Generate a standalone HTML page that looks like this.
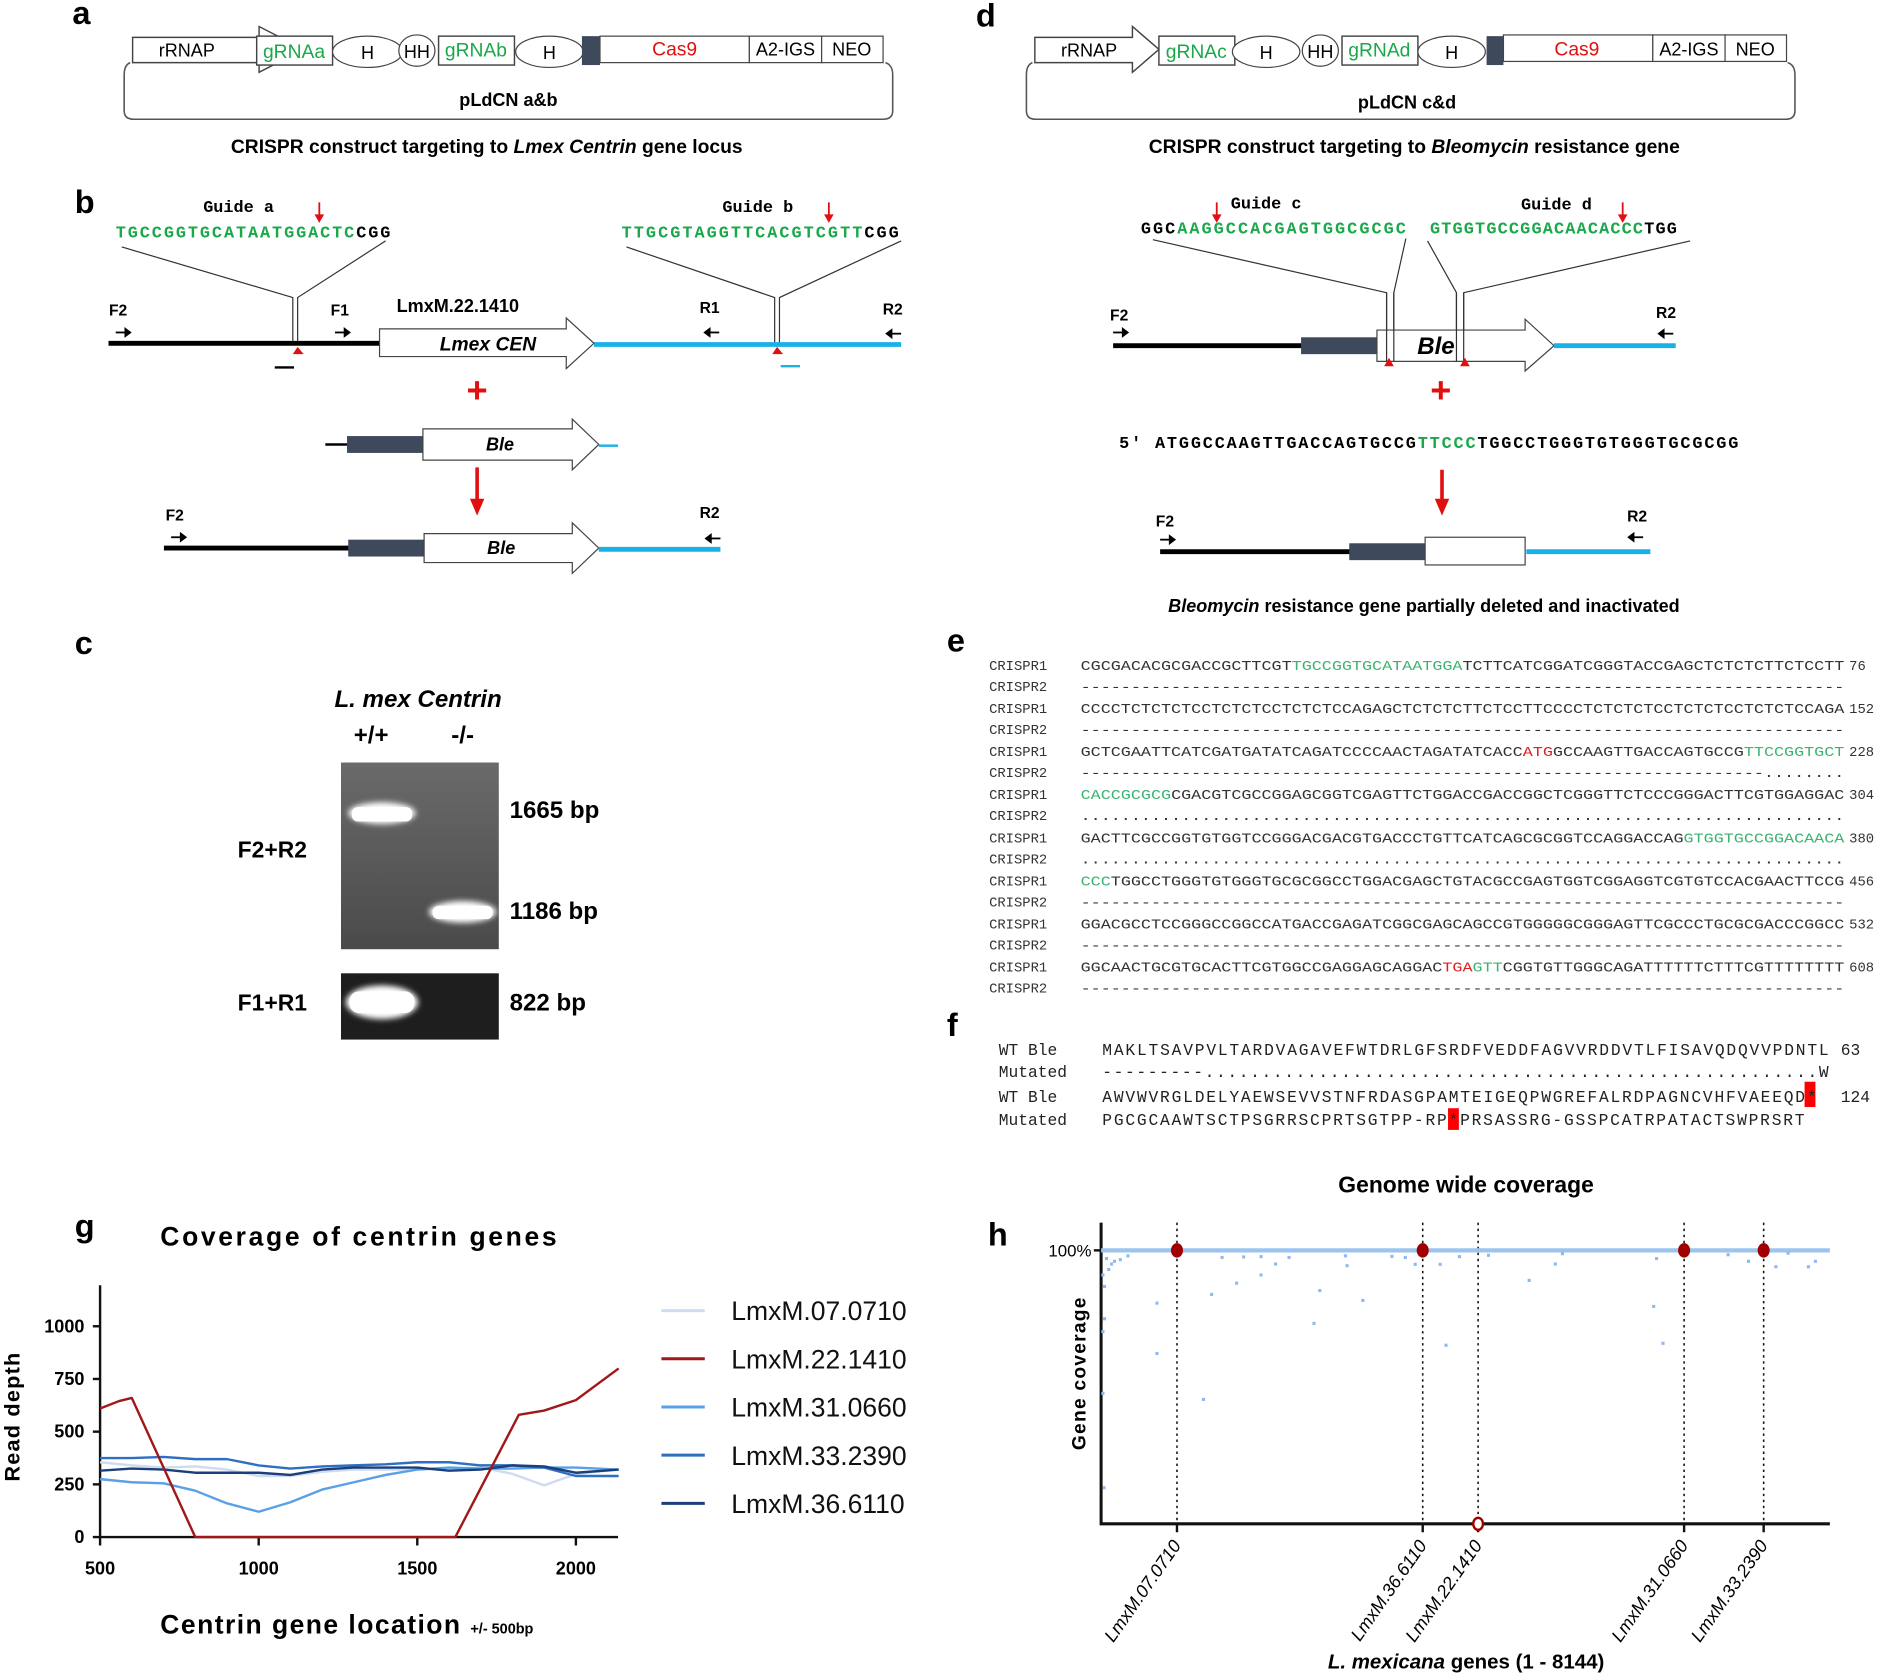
<!DOCTYPE html>
<html><head><meta charset="utf-8"><style>
html,body{margin:0;padding:0;background:#fff}
svg{display:block}
.s{font-family:"Liberation Sans",sans-serif}
.m{font-family:"Liberation Mono",monospace}
.b{font-weight:bold}
.g{fill:#19a84a}
.lab{font-family:"Liberation Sans",sans-serif;font-weight:bold;font-size:27px}
</style></head><body>
<svg id="root" xmlns="http://www.w3.org/2000/svg" width="1889" height="1678" viewBox="0 0 1568 1393">
<defs>
<linearGradient id="gelg" x1="0" y1="0" x2="0" y2="1"><stop offset="0" stop-color="#6a6a6a"/><stop offset="1" stop-color="#4a4a4a"/></linearGradient>
<filter id="blur" x="-30%" y="-100%" width="160%" height="300%"><feGaussianBlur stdDeviation="2.5"/></filter>
</defs>

<!-- Panel a -->
<g>
<text class="lab" x="60" y="20">a</text>
<g id="constructA">
<path d="M108,52 Q103,54 103,62 L103,92 Q103,99 111,99 L733,99 Q741,99 741,92 L741,62 Q741,54 735,52" fill="none" stroke="#555" stroke-width="1.3"/>
<polygon points="110,31 215,31 215,22 252,41 215,60 215,52 110,52" fill="#fff" stroke="#444" stroke-width="1.2"/>
<text class="s" x="155" y="47" font-size="15" text-anchor="middle">rRNAP</text>
<rect x="213" y="30" width="63" height="24" fill="#fff" stroke="#444" stroke-width="1.2"/>
<text class="s g" x="244" y="48" font-size="16" text-anchor="middle">gRNAa</text>
<ellipse cx="305" cy="43" rx="29" ry="13" fill="#fff" stroke="#444"/>
<text class="s" x="305" y="49" font-size="15" text-anchor="middle">H</text>
<ellipse cx="346" cy="42" rx="15" ry="13" fill="#fff" stroke="#444"/>
<text class="s" x="346" y="48" font-size="15" text-anchor="middle">HH</text>
<rect x="364" y="30" width="63" height="24" fill="#fff" stroke="#444" stroke-width="1.2"/>
<text class="s g" x="395" y="47" font-size="16" text-anchor="middle">gRNAb</text>
<ellipse cx="456" cy="43" rx="28" ry="13" fill="#fff" stroke="#444"/>
<text class="s" x="456" y="49" font-size="15" text-anchor="middle">H</text>
<rect x="483" y="30" width="15" height="24" fill="#3e4a5c"/>
<rect x="498" y="30" width="124" height="22" fill="#fff" stroke="#444"/>
<text class="s" x="560" y="46" font-size="16" text-anchor="middle" fill="#e01010">Cas9</text>
<rect x="622" y="30" width="60" height="22" fill="#fff" stroke="#444"/>
<text class="s" x="652" y="46" font-size="15" text-anchor="middle">A2-IGS</text>
<rect x="682" y="30" width="51" height="22" fill="#fff" stroke="#444"/>
<text class="s" x="707" y="46" font-size="15" text-anchor="middle">NEO</text>
</g>
<text class="s b" x="422" y="88" font-size="15" text-anchor="middle">pLdCN a&amp;b</text>
<text class="s" x="404" y="127" font-size="16" text-anchor="middle" font-weight="bold">CRISPR construct targeting to <tspan font-style="italic">Lmex Centrin</tspan> gene locus</text>
</g>

<!-- Panel b -->
<g>
<text class="lab" x="62" y="177">b</text>
<text class="m b" x="198" y="176" font-size="14" text-anchor="middle">Guide a</text>
<text class="m b" x="96" y="197" font-size="14" textLength="228"><tspan class="g">TGCCGGTGCATAATGGACTC</tspan>CGG</text>
<path d="M265,168 V181" stroke="#e01010" stroke-width="1.5"/><path d="M261,178 L265,185 L269,178Z" fill="#e01010"/>
<text class="m b" x="629" y="176" font-size="14" text-anchor="middle">Guide b</text>
<text class="m b" x="516" y="197" font-size="14" textLength="230"><tspan class="g">TTGCGTAGGTTCACGTCGTT</tspan>CGG</text>
<path d="M688,168 V181" stroke="#e01010" stroke-width="1.5"/><path d="M684,178 L688,185 L692,178Z" fill="#e01010"/>
<path d="M101,205 L243,247 V285 M320,200 L247,247 V285" fill="none" stroke="#333" stroke-width="1"/>
<path d="M520,205 L643,247 V287 M748,200 L647,247 V287" fill="none" stroke="#333" stroke-width="1"/>
<line x1="90" y1="285" x2="316" y2="285" stroke="#000" stroke-width="4"/>
<line x1="493" y1="286" x2="748" y2="286" stroke="#1ab0e8" stroke-width="4"/>
<polygon points="315,273 470,273 470,264 493,285 470,306 470,296 315,296" fill="#fff" stroke="#444"/>
<text class="s b" x="405" y="291" font-size="16" font-style="italic" text-anchor="middle">Lmex  CEN</text>
<text class="s b" x="380" y="259" font-size="15" text-anchor="middle">LmxM.22.1410</text>
<path d="M245,292 L241,298 H250Z" fill="#e01010" transform="translate(2,-4)"/>
<path d="M643,292 L639,298 H648Z" fill="#e01010" transform="translate(2,-4)"/>
<line x1="228" y1="305" x2="244" y2="305" stroke="#000" stroke-width="2"/>
<line x1="648" y1="304" x2="664" y2="304" stroke="#1ab0e8" stroke-width="2"/>
<text class="s b" x="98" y="262" font-size="13" text-anchor="middle">F2</text>
<text class="s b" x="282" y="262" font-size="13" text-anchor="middle">F1</text>
<text class="s b" x="589" y="260" font-size="13" text-anchor="middle">R1</text>
<text class="s b" x="741" y="261" font-size="13" text-anchor="middle">R2</text>
<g stroke="#000" stroke-width="1.5" fill="#000">
<path d="M96,276 H106" /><path d="M104,273 L108,276 L104,279Z"/>
<path d="M278,276 H288"/><path d="M286,273 L290,276 L286,279Z"/>
<path d="M587,276 H597"/><path d="M589,273 L585,276 L589,279Z"/>
<path d="M738,277 H748"/><path d="M740,274 L736,277 L740,280Z"/>
<path d="M142,446 H152"/><path d="M150,443 L154,446 L150,449Z"/>
<path d="M588,447 H598"/><path d="M590,444 L586,447 L590,450Z"/>
</g>
<text class="s b" x="396" y="334" font-size="30" fill="#e01010" text-anchor="middle">+</text>
<line x1="270" y1="369" x2="290" y2="369" stroke="#000" stroke-width="2"/>
<rect x="288" y="362" width="63" height="14" fill="#3e4a5c"/>
<polygon points="351,356 475,356 475,348 497,369 475,390 475,382 351,382" fill="#fff" stroke="#444"/>
<text class="s b" x="415" y="374" font-size="15" font-style="italic" text-anchor="middle">Ble</text>
<line x1="497" y1="370" x2="513" y2="370" stroke="#1ab0e8" stroke-width="2"/>
<line x1="396" y1="388" x2="396" y2="418" stroke="#e01010" stroke-width="3"/>
<path d="M390,414 L396,428 L402,414Z" fill="#e01010"/>
<text class="s b" x="145" y="432" font-size="13" text-anchor="middle">F2</text>
<text class="s b" x="589" y="430" font-size="13" text-anchor="middle">R2</text>
<line x1="136" y1="455" x2="290" y2="455" stroke="#000" stroke-width="4"/>
<rect x="289" y="448" width="63" height="14" fill="#3e4a5c"/>
<polygon points="352,443 475,443 475,434 497,455 475,476 475,467 352,467" fill="#fff" stroke="#444"/>
<text class="s b" x="416" y="460" font-size="15" font-style="italic" text-anchor="middle">Ble</text>
<line x1="497" y1="456" x2="598" y2="456" stroke="#1ab0e8" stroke-width="4"/>
</g>

<!-- Panel c -->
<g>
<text class="lab" x="62" y="543">c</text>
<text class="s b" x="347" y="587" font-size="20" font-style="italic" text-anchor="middle">L. mex Centrin</text>
<text class="s b" x="308" y="617" font-size="20" text-anchor="middle">+/+</text>
<text class="s b" x="384" y="617" font-size="20" text-anchor="middle">-/-</text>
<rect x="283" y="633" width="131" height="155" fill="url(#gelg)"/>
<ellipse cx="317" cy="675" rx="28" ry="9" fill="#fff" filter="url(#blur)"/>
<rect x="292" y="670" width="50" height="12" rx="5" fill="#fff"/>
<ellipse cx="384" cy="757" rx="28" ry="9" fill="#fff" filter="url(#blur)"/>
<rect x="359" y="752" width="50" height="11" rx="5" fill="#fff"/>
<rect x="283" y="808" width="131" height="55" fill="#1e1e1e"/>
<ellipse cx="317" cy="832" rx="30" ry="14" fill="#fff" filter="url(#blur)"/>
<rect x="290" y="823" width="54" height="18" rx="8" fill="#fff"/>
<text class="s b" x="226" y="712" font-size="19" text-anchor="middle">F2+R2</text>
<text class="s b" x="226" y="839" font-size="19" text-anchor="middle">F1+R1</text>
<text class="s b" x="423" y="679" font-size="20">1665 bp</text>
<text class="s b" x="423" y="763" font-size="20">1186 bp</text>
<text class="s b" x="423" y="839" font-size="20">822 bp</text>
</g>

<!-- Panel d -->
<g>
<text class="lab" x="810" y="22">d</text>
<g transform="translate(749,0)">
<path d="M108,52 Q103,54 103,62 L103,92 Q103,99 111,99 L733,99 Q741,99 741,92 L741,62 Q741,54 735,52" fill="none" stroke="#555" stroke-width="1.3"/>
<polygon points="110,31 191,31 191,22 213,41 191,60 191,52 110,52" fill="#fff" stroke="#444" stroke-width="1.2"/>
<text class="s" x="155" y="47" font-size="15" text-anchor="middle">rRNAP</text>
<rect x="213" y="30" width="63" height="24" fill="#fff" stroke="#444" stroke-width="1.2"/>
<text class="s g" x="244" y="48" font-size="16" text-anchor="middle">gRNAc</text>
<ellipse cx="302" cy="43" rx="28" ry="13" fill="#fff" stroke="#444"/>
<text class="s" x="302" y="49" font-size="15" text-anchor="middle">H</text>
<ellipse cx="347" cy="42" rx="15" ry="13" fill="#fff" stroke="#444"/>
<text class="s" x="347" y="48" font-size="15" text-anchor="middle">HH</text>
<rect x="365" y="30" width="63" height="24" fill="#fff" stroke="#444" stroke-width="1.2"/>
<text class="s g" x="396" y="47" font-size="16" text-anchor="middle">gRNAd</text>
<ellipse cx="456" cy="43" rx="28" ry="13" fill="#fff" stroke="#444"/>
<text class="s" x="456" y="49" font-size="15" text-anchor="middle">H</text>
<rect x="485" y="30" width="14" height="24" fill="#3e4a5c"/>
<rect x="499" y="29" width="124" height="22" fill="#fff" stroke="#444"/>
<text class="s" x="560" y="46" font-size="16" text-anchor="middle" fill="#e01010">Cas9</text>
<rect x="623" y="29" width="60" height="22" fill="#fff" stroke="#444"/>
<text class="s" x="653" y="46" font-size="15" text-anchor="middle">A2-IGS</text>
<rect x="683" y="29" width="51" height="22" fill="#fff" stroke="#444"/>
<text class="s" x="708" y="46" font-size="15" text-anchor="middle">NEO</text>
</g>
<text class="s b" x="1168" y="90" font-size="15" text-anchor="middle">pLdCN c&amp;d</text>
<text class="s b" x="1174" y="127" font-size="16" text-anchor="middle">CRISPR construct targeting to <tspan font-style="italic">Bleomycin</tspan>  resistance gene</text>
<text class="m b" x="1051" y="173" font-size="14" text-anchor="middle">Guide c</text>
<text class="m b" x="947" y="194" font-size="14" textLength="220">GGC<tspan class="g">AAGGCCACGAGTGGCGCGC</tspan></text>
<text class="m b" x="1292" y="174" font-size="14" text-anchor="middle">Guide d</text>
<text class="m b" x="1187" y="194" font-size="14" textLength="205"><tspan class="g">GTGGTGCCGGACAACACCC</tspan>TGG</text>
<path d="M1010,168 V181" stroke="#e01010" stroke-width="1.5"/><path d="M1006,178 L1010,185 L1014,178Z" fill="#e01010"/>
<path d="M1347,168 V181" stroke="#e01010" stroke-width="1.5"/><path d="M1343,178 L1347,185 L1351,178Z" fill="#e01010"/>
<path d="M957,199 L1151,243 V300 M1167,198 L1157,243 V300 M1185,200 L1209,243 V300 M1403,200 L1215,243 V300" fill="none" stroke="#333" stroke-width="1"/>
<line x1="924" y1="287" x2="1081" y2="287" stroke="#000" stroke-width="4"/>
<rect x="1080" y="280" width="63" height="14" fill="#3e4a5c"/>
<polygon points="1143,274 1266,274 1266,265 1290,287 1266,308 1266,300 1143,300" fill="#fff" stroke="#444"/>
<path d="M1151,243 V300 M1157,243 V300 M1209,243 V300 M1215,243 V300" stroke="#333" stroke-width="1"/>
<text class="s b" x="1192" y="294" font-size="20" font-style="italic" text-anchor="middle">Ble</text>
<line x1="1290" y1="287" x2="1391" y2="287" stroke="#1ab0e8" stroke-width="4"/>
<path d="M1153,297 L1149,304 H1157Z" fill="#e01010"/>
<path d="M1216,297 L1212,304 H1220Z" fill="#e01010"/>
<text class="s b" x="929" y="266" font-size="13" text-anchor="middle">F2</text>
<text class="s b" x="1383" y="264" font-size="13" text-anchor="middle">R2</text>
<text class="s b" x="967" y="437" font-size="13" text-anchor="middle">F2</text>
<text class="s b" x="1359" y="433" font-size="13" text-anchor="middle">R2</text>
<g stroke="#000" stroke-width="1.5" fill="#000">
<path d="M924,276 H934"/><path d="M932,273 L936,276 L932,279Z"/>
<path d="M1379,277 H1389"/><path d="M1381,274 L1377,277 L1381,280Z"/>
<path d="M963,448 H973"/><path d="M971,445 L975,448 L971,451Z"/>
<path d="M1354,446 H1364"/><path d="M1356,443 L1352,446 L1356,449Z"/>
</g>
<text class="s b" x="1196" y="334" font-size="30" fill="#e01010" text-anchor="middle">+</text>
<text class="m b" x="929" y="372" font-size="14" textLength="514">5′ ATGGCCAAGTTGACCAGTGCCG<tspan class="g">TTCCC</tspan>TGGCCTGGGTGTGGGTGCGCGG</text>
<line x1="1197" y1="390" x2="1197" y2="418" stroke="#e01010" stroke-width="3"/>
<path d="M1191,414 L1197,428 L1203,414Z" fill="#e01010"/>
<line x1="963" y1="458" x2="1121" y2="458" stroke="#000" stroke-width="4"/>
<rect x="1120" y="451" width="63" height="14" fill="#3e4a5c"/>
<rect x="1183" y="446" width="83" height="23" fill="#fff" stroke="#444"/>
<line x1="1267" y1="458" x2="1370" y2="458" stroke="#1ab0e8" stroke-width="4"/>
<text class="s b" x="1182" y="508" font-size="15" text-anchor="middle"><tspan font-style="italic">Bleomycin</tspan>  resistance  gene  partially  deleted  and inactivated</text>
</g>

<!-- Panel e -->
<g id="panelE">
<text class="lab" x="786" y="541">e</text>
</g>

<!-- Panel f -->
<g>
<text class="lab" x="786" y="860">f</text>
<rect x="1498" y="898" width="9" height="21" fill="#f00"/>
<rect x="1202" y="920" width="9" height="18" fill="#f00"/>
<g class="m" font-size="13.5" fill="#222">
<text x="829" y="876">WT Ble</text>
<text x="829" y="894">Mutated</text>
<text x="829" y="915">WT Ble</text>
<text x="829" y="934">Mutated</text>
<text x="915" y="876" textLength="603">MAKLTSAVPVLTARDVAGAVEFWTDRLGFSRDFVEDDFAGVVRDDVTLFISAVQDQVVPDNTL</text>
<text x="915" y="894" textLength="603">---------......................................................W</text>
<text x="915" y="915" textLength="593">AWVWVRGLDELYAEWSEVVSTNFRDASGPAMTEIGEQPWGREFALRDPAGNCVHFVAEEQD*</text>
<text x="915" y="934" textLength="583">PGCGCAAWTSCTPSGRRSCPRTSGTPP-RP*PRSASSRG-GSSPCATRPATACTSWPRSRT</text>
<text x="1528" y="876">63</text>
<text x="1528" y="915">124</text>
</g>
</g>

<!-- Panel g -->
<g id="chartG">
<text class="lab" x="62" y="1027">g</text>
<text class="s b" x="133" y="1034" font-size="22" textLength="329">Coverage of centrin genes</text>
<text class="s b" x="133" y="1356" font-size="22" letter-spacing="1.2">Centrin gene location <tspan font-size="12" letter-spacing="0">+/- 500bp</tspan></text>
<text class="s b" transform="translate(16,1176) rotate(-90)" font-size="18" text-anchor="middle" letter-spacing="1">Read depth</text>
</g>

<!-- Panel h -->
<g id="chartH">
<text class="s b" x="1217" y="990" font-size="19" text-anchor="middle">Genome wide coverage</text>
<text class="lab" x="820" y="1034">h</text>
<text class="s b" transform="translate(901,1140) rotate(-90)" font-size="16" text-anchor="middle" letter-spacing="1">Gene coverage</text>
<text class="s b" x="1217" y="1385" font-size="17" text-anchor="middle"><tspan font-style="italic">L. mexicana</tspan> genes (1 - 8144)</text>
</g>
</svg>
<script>
const NS = "http://www.w3.org/2000/svg";
function mk(tag, attrs, parent) {
  const e = document.createElementNS(NS, tag);
  for (const k in attrs) e.setAttribute(k, attrs[k]);
  parent.appendChild(e);
  return e;
}

/* ---------- Panel e alignment ---------- */
const eSeq1 = [
 ["CGCGACACGCGACCGCTTCGT", "g:TGCCGGTGCATAATGGA", "TCTTCATCGGATCGGGTACCGAGCTCTCTCTTCTCCTT"],
 ["CCCCTCTCTCTCCTCTCTCCTCTCTCCAGAGCTCTCTCTTCTCCTTCCCCTCTCTCTCCTCTCTCCTCTCTCCAGA"],
 ["GCTCGAATTCATCGATGATATCAGATCCCCAACTAGATATCACC", "r:ATG", "GCCAAGTTGACCAGTGCCG", "g:TTCCGGTGCT"],
 ["g:CACCGCGCG", "CGACGTCGCCGGAGCGGTCGAGTTCTGGACCGACCGGCTCGGGTTCTCCCGGGACTTCGTGGAGGAC"],
 ["GACTTCGCCGGTGTGGTCCGGGACGACGTGACCCTGTTCATCAGCGCGGTCCAGGACCAG", "g:GTGGTGCCGGACAACA"],
 ["g:CCC", "TGGCCTGGGTGTGGGTGCGCGGCCTGGACGAGCTGTACGCCGAGTGGTCGGAGGTCGTGTCCACGAACTTCCG"],
 ["GGACGCCTCCGGGCCGGCCATGACCGAGATCGGCGAGCAGCCGTGGGGGCGGGAGTTCGCCCTGCGCGACCCGGCC"],
 ["GGCAACTGCGTGCACTTCGTGGCCGAGGAGCAGGAC", "r:TGA", "g:GTT", "CGGTGTTGGGCAGATTTTTTCTTTCGTTTTTTTT"]
];
const eSeq2 = [
 "-".repeat(76), "-".repeat(76), "-".repeat(68) + ".".repeat(8), ".".repeat(76),
 ".".repeat(76), "-".repeat(76), "-".repeat(76), "-".repeat(76)
];
const eNums = ["76","152","228","304","380","456","532","608"];
(function(){
  const g = document.getElementById("panelE");
  for (let i = 0; i < 8; i++) {
    const y1 = 556 + i * 35.8, y2 = y1 + 17.5;
    const l1 = mk("text", {x:821, y:y1, "class":"m", "font-size":11.5, fill:"#333"}, g);
    l1.textContent = "CRISPR1";
    const l2 = mk("text", {x:821, y:y2, "class":"m", "font-size":11.5, fill:"#333"}, g);
    l2.textContent = "CRISPR2";
    const t = mk("text", {x:897, y:y1, "class":"m", "font-size":11.5, fill:"#333", textLength:634, lengthAdjust:"spacingAndGlyphs"}, g);
    
    
    eSeq1[i].forEach(p => {
      const ts = mk("tspan", {}, t);
      if (p.startsWith("g:")) { ts.setAttribute("fill", "#3cb371"); ts.textContent = p.slice(2); }
      else if (p.startsWith("r:")) { ts.setAttribute("fill", "#e02020"); ts.textContent = p.slice(2); }
      else ts.textContent = p;
    });
    const t2 = mk("text", {x:897, y:y2, "class":"m", "font-size":11.5, fill:"#333", textLength:634, lengthAdjust:"spacingAndGlyphs"}, g);
    
    
    t2.textContent = eSeq2[i];
    const n = mk("text", {x:1535, y:y1, "class":"m", "font-size":11.5, fill:"#333"}, g);
    n.textContent = eNums[i];
  }
})();

/* ---------- Panel g chart ---------- */
const gX = [500,600,700,800,900,1000,1100,1200,1300,1400,1500,1600,1700,1800,1900,2000,2135];
const s07 = [355,340,330,335,320,290,290,310,320,320,320,325,330,300,245,300,320];
const s31 = [275,260,255,220,160,120,165,225,260,295,320,330,325,325,330,330,320];
const s33 = [375,375,380,370,370,340,325,335,340,345,355,355,340,340,330,290,290];
const s36 = [315,325,320,305,305,305,295,320,330,330,330,315,320,340,335,305,320];
const redX = [500,560,600,800,1620,1820,1900,2000,2135];
const s22 = [610,645,660,0,0,580,600,650,800];
const gNames = ["LmxM.07.0710","LmxM.22.1410","LmxM.31.0660","LmxM.33.2390","LmxM.36.6110"];
const gColors = ["#cfdcf0","#a01818","#5aa0e8","#2f6fc0","#1a3f7a"];
const gXTicks = [500,1000,1500,2000];
const gYTicks = [0,250,500,750,1000];
(function(){
  const g = document.getElementById("chartG");
  const xs = v => 83 + (v - 500) * (478 - 83) / 1500;
  const ys = v => 1276 - v * (1276 - 1101) / 1000;
  const ax = mk("path", {d:"M83,1067 V1276 H513", fill:"none", stroke:"#111", "stroke-width":2}, g);
  
  
  gXTicks.forEach(t => {
    mk("line", {x1:xs(t), y1:1276, x2:xs(t), y2:1283, stroke:"#111", "stroke-width":2}, g);
    const tx = mk("text", {x:xs(t), y:1307, "class":"s b", "font-size":15, "text-anchor":"middle"}, g);
    
    
    tx.textContent = t;
  });
  gYTicks.forEach(t => {
    mk("line", {x1:77, y1:ys(t), x2:83, y2:ys(t), stroke:"#111", "stroke-width":2}, g);
    const tx = mk("text", {x:70, y:ys(t) + 5, "class":"s b", "font-size":15, "text-anchor":"end"}, g);
    
    
    tx.textContent = t;
  });
  const series = [[gX,s07],[redX,s22],[gX,s31],[gX,s33],[gX,s36]];
  const order = [0,2,3,4,1];
  order.forEach(i => {
    const [xa, ya] = series[i];
    const pts = xa.map((x, j) => xs(x).toFixed(1) + "," + ys(ya[j]).toFixed(1)).join(" ");
    const pl = mk("polyline", {points:pts, fill:"none", stroke:gColors[i], "stroke-width":2, "stroke-linejoin":"round"}, g);
    
    
  });
  gNames.forEach((n, i) => {
    const y = 1088 + i * 40;
    const lg = mk("g", {}, g);
    
    
    mk("line", {x1:549, y1:y, x2:585, y2:y, stroke:gColors[i], "stroke-width":2.5}, lg);
    const tx = mk("text", {x:607, y:y + 8, "class":"s", "font-size":22, fill:"#111"}, lg);
    tx.textContent = n;
  });
})();

/* ---------- Panel h chart ---------- */
const hGeneIdx = [848, 3594, 4213, 6515, 7404];
const hGeneCov = [100, 100, 0, 100, 100];
const hGeneNames = ["LmxM.07.0710","LmxM.36.6110","LmxM.22.1410","LmxM.31.0660","LmxM.33.2390"];
const hDotIdx = [624,624,1144,1235,1514,1787,1950,2379,2444,2749,2925,3854,3789,4784,5076,6175,6279,6207,7540,7904,7982,20,33,20,39,39,20,85,117,215,1352,1593,1788,2100,2730,3250,3400,3510,4004,4329,5155,7007,7235,7677,60,150,300];
const hDotCov = [80.7,62.3,45.5,83.9,88,91,95,73.3,85.3,94.4,81.7,65.3,94.9,89,95,79.5,66,97,94,94,96,47.7,13.2,70.3,75,86.8,91,93,95,96.6,97.4,97.6,97.7,97.4,98,97.8,97.4,94.9,97.7,98.2,98.8,98.4,96,99,97,96,98];
(function(){
  const g = document.getElementById("chartH");
  const xs = v => 914 + v * (1519 - 914) / 8144;
  const ys = v => 1265 - v * (1265 - 1038) / 100;
  const ax = mk("path", {d:"M914,1015 V1265 H1519", fill:"none", stroke:"#111", "stroke-width":2.5}, g);
  
  
  mk("line", {x1:908, y1:ys(100), x2:914, y2:ys(100), stroke:"#111", "stroke-width":2}, g);
  const yl = mk("text", {x:906, y:ys(100) + 5, "class":"s", "font-size":14, "text-anchor":"end"}, g);
  
  
  yl.textContent = "100%";
  hGeneIdx.forEach(v => {
    const dl = mk("line", {x1:xs(v), y1:1015, x2:xs(v), y2:1265, stroke:"#111", "stroke-width":1.3, "stroke-dasharray":"2,3"}, g);
    
    
    mk("line", {x1:xs(v), y1:1265, x2:xs(v), y2:1272, stroke:"#111", "stroke-width":2}, g);
  });
  const hl = mk("line", {x1:914, y1:ys(100), x2:1519, y2:ys(100), stroke:"#9cc4ee", "stroke-width":3.5}, g);
  
  
  hDotIdx.forEach((v, i) => {
    const d = mk("rect", {x:xs(v) - 1.3, y:ys(hDotCov[i]) - 1.3, width:2.6, height:2.6, fill:"#8fbaf0"}, g);
    
    
  });
  hGeneIdx.forEach((v, i) => {
    const c = mk("ellipse", {cx:xs(v), cy:ys(hGeneCov[i]), rx:4, ry:5, fill:hGeneCov[i] > 0 ? "#a00000" : "#fff", stroke:"#a00000", "stroke-width":2}, g);
    
    
    const t = mk("text", {x:0, y:0, "class":"s", "font-size":15, "font-style":"italic", "text-anchor":"end", transform:"translate(" + (xs(v) + 4) + ",1283) rotate(-55)"}, g);
    
    
    t.textContent = hGeneNames[i];
  });
})();
</script>
</body></html>
